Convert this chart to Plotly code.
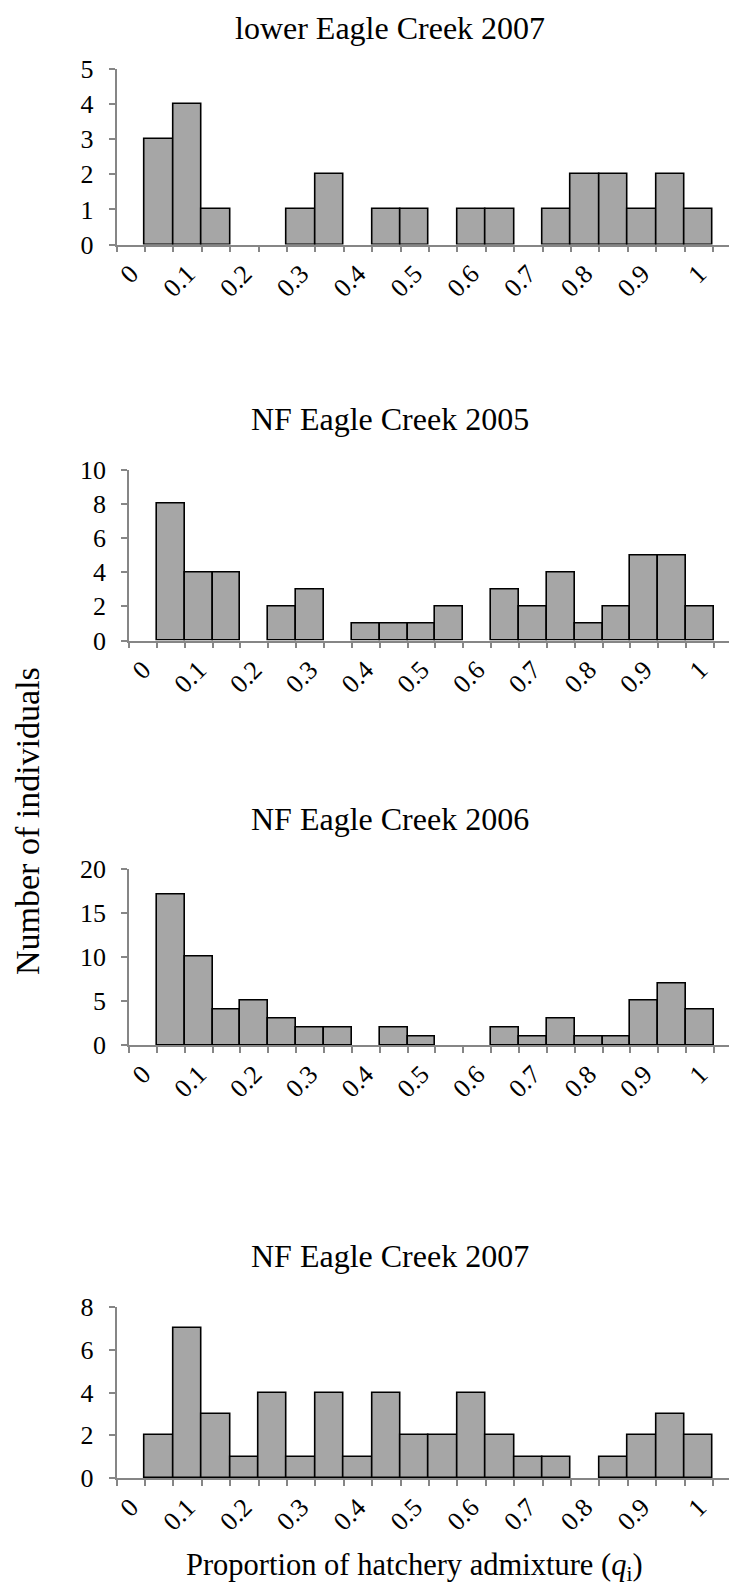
import plotly.graph_objects as go

# ---- data ----
bins = ["0", "0.05", "0.1", "0.15", "0.2", "0.25", "0.3", "0.35", "0.4", "0.45", "0.5",
        "0.55", "0.6", "0.65", "0.7", "0.75", "0.8", "0.85", "0.9", "0.95", "1", "More"]
tick_labels = ["0", "0.1", "0.2", "0.3", "0.4", "0.5", "0.6", "0.7", "0.8", "0.9", "1"]

titles = ["lower Eagle Creek 2007", "NF Eagle Creek 2005", "NF Eagle Creek 2006", "NF Eagle Creek 2007"]

lower_eagle_2007 = [0, 3, 4, 1, 0, 0, 1, 2, 0, 1, 1, 0, 1, 1, 0, 1, 2, 2, 1, 2, 1, 0]
nf_eagle_2005 = [0, 8, 4, 4, 0, 2, 3, 0, 1, 1, 1, 2, 0, 3, 2, 4, 1, 2, 5, 5, 2, 0]
nf_eagle_2006 = [0, 17, 10, 4, 5, 3, 2, 2, 0, 2, 1, 0, 0, 2, 1, 3, 1, 1, 5, 7, 4, 0]
nf_eagle_2007 = [0, 2, 7, 3, 1, 4, 1, 4, 1, 4, 2, 2, 4, 2, 1, 1, 0, 1, 2, 3, 2, 0]

y_max = [5, 10, 20, 8]
y_step = [1, 2, 5, 2]

x_title = "Proportion of hatchery admixture (<i>q</i><sub>i</sub>)"
y_title = "Number of individuals"

# ---- layout geometry (page pixels; the page body adds an 8px offset) ----
W, H = 737, 1587
OFF = 8
axis_left = [116.5, 129, 129, 116.5]
slot_w = [28.4, 27.86, 27.86, 28.4]
plot_top = [69, 469.5, 868.5, 1307]
plot_bot = [244.5, 640.5, 1045, 1478]
title_y = [27.5, 419, 819, 1256]
title_x = 390

FONT = "Liberation Serif"
AX = "#868686"


def px(x):
    return (x - OFF) / W


def py(y):
    return 1 - (y - OFF) / H


series = [lower_eagle_2007, nf_eagle_2005, nf_eagle_2006, nf_eagle_2007]

# bin positions on the axis (one slot per bin) and label positions (every other bin)
pos = list(range(len(bins)))
label_pos = [pos[bins.index(t)] for t in tick_labels]
boundaries = [p - 0.5 for p in pos]

fig = go.Figure()
layout = dict(
    width=W, height=H, margin=dict(l=0, r=0, t=0, b=0, autoexpand=False),
    paper_bgcolor="white", plot_bgcolor="white",
    showlegend=False, bargap=0,
    font=dict(family=FONT, color="black", size=26),
    annotations=[],
)

for i, vals in enumerate(series):
    n = "" if i == 0 else str(i + 1)
    # empty bins are not drawn (no outline on a zero-height bar)
    shown = [v if v > 0 else None for v in vals]
    fig.add_trace(go.Bar(
        x=pos, y=shown, xaxis="x" + n, yaxis="y" + n,
        marker=dict(color="#A6A6A6", line=dict(color="black", width=1.6)),
        width=1.0, hoverinfo="skip",
    ))
    left = axis_left[i] - OFF
    right = (W - left) / slot_w[i] - 0.5
    layout["xaxis" + n] = dict(
        domain=[left / W, 1.0], anchor="y" + n,
        range=[-0.5, right], tickmode="array", tickvals=label_pos, ticktext=tick_labels,
        ticks="outside", ticklen=0, tickcolor="rgba(0,0,0,0)",
        minor=dict(tickmode="array", tickvals=boundaries, ticks="outside", ticklen=6,
                   tickwidth=1.5, tickcolor=AX, showgrid=False),
        showline=True, linecolor=AX, linewidth=1.5, showgrid=False, zeroline=False,
        tickangle=-45, tickfont=dict(family=FONT, size=26, color="black"),
        ticklabelstandoff=2,
    )
    layout["yaxis" + n] = dict(
        domain=[py(plot_bot[i]), py(plot_top[i])], anchor="x" + n,
        range=[0, y_max[i]], tickmode="linear", tick0=0, dtick=y_step[i],
        ticks="outside", ticklen=6, tickwidth=1.5, tickcolor=AX,
        showline=True, linecolor=AX, linewidth=1.5, showgrid=False, zeroline=False,
        tickfont=dict(family=FONT, size=26, color="black"), ticklabelstandoff=10,
    )
    layout["annotations"].append(dict(
        text=titles[i], xref="paper", yref="paper", x=px(title_x), y=py(title_y[i]),
        xanchor="center", yanchor="middle", showarrow=False, borderpad=0,
        font=dict(family=FONT, size=32, color="black"),
    ))

layout["annotations"].append(dict(
    text=x_title, xref="paper", yref="paper", x=px(414), y=py(1567),
    xanchor="center", yanchor="middle", showarrow=False, borderpad=0,
    font=dict(family=FONT, size=30.5, color="black"),
))
layout["annotations"].append(dict(
    text=y_title, xref="paper", yref="paper", x=px(27), y=py(821),
    xanchor="center", yanchor="middle", showarrow=False, textangle=-90, borderpad=0,
    font=dict(family=FONT, size=34, color="black"),
))

fig.update_layout(**layout)
fig.write_html("out.html")
